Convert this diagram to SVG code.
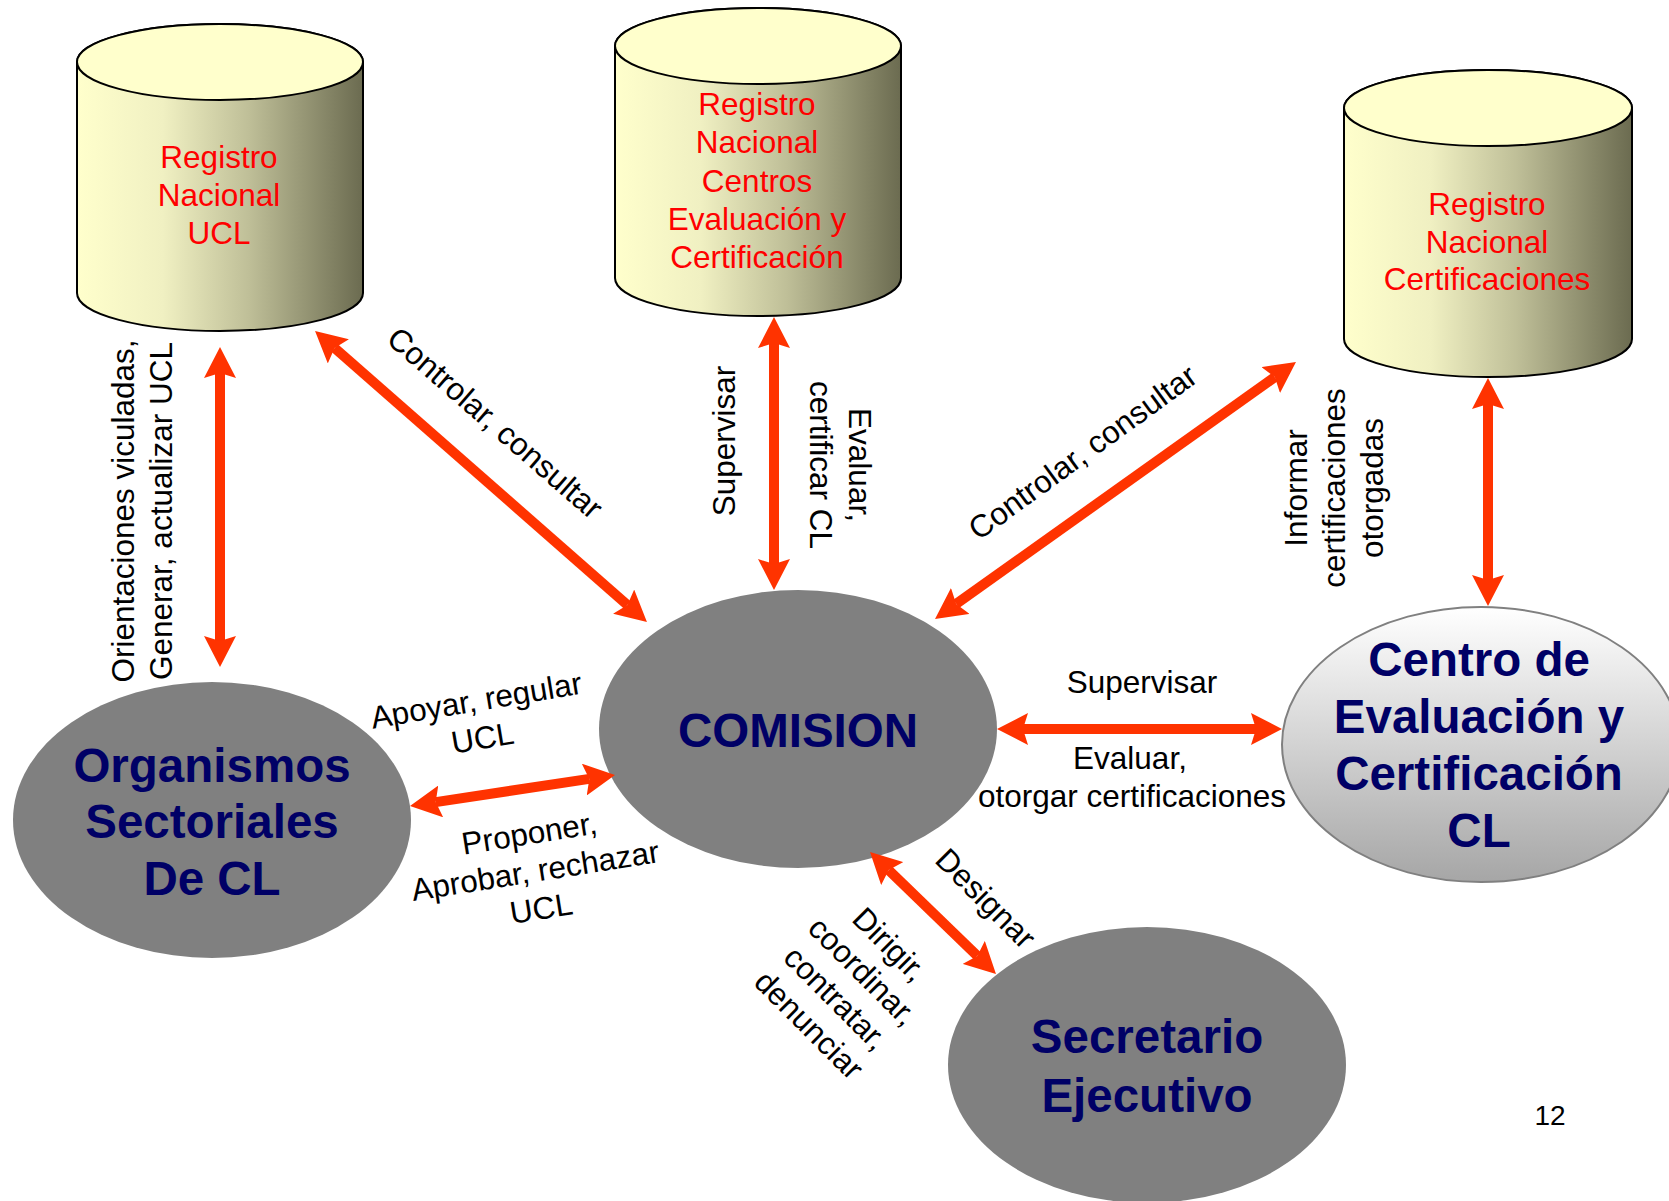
<svg xmlns="http://www.w3.org/2000/svg" width="1669" height="1201" viewBox="0 0 1669 1201">
<defs>
<linearGradient id="cyl" x1="0" y1="0" x2="1" y2="0">
<stop offset="0" stop-color="#FFFFCC"/>
<stop offset="0.3" stop-color="#F0F0C2"/>
<stop offset="0.6" stop-color="#BFBF98"/>
<stop offset="1" stop-color="#6B6B50"/>
</linearGradient>
<linearGradient id="centro" x1="0" y1="0" x2="0" y2="1">
<stop offset="0" stop-color="#FFFFFF"/>
<stop offset="1" stop-color="#A6A6A6"/>
</linearGradient>
<marker id="ah" viewBox="0 0 31 32" refX="5" refY="16" markerWidth="31" markerHeight="32" markerUnits="userSpaceOnUse" orient="auto-start-reverse">
<path d="M0,0 L31,16 L0,32 L5,16 Z" fill="#FF3300"/>
</marker>
</defs>
<style>
.cylbody{fill:url(#cyl);stroke:#000;stroke-width:2}
.cyltop{fill:#FFFFCC;stroke:#000;stroke-width:2}
.red{font-family:"Liberation Sans",Arial,sans-serif;font-size:31.5px;fill:#FF0000;text-anchor:middle}
.node{fill:#808080}
.big{font-family:"Liberation Sans",Arial,sans-serif;font-size:47.5px;font-weight:bold;fill:#000066;text-anchor:middle}
.lbl{font-family:"Liberation Sans",Arial,sans-serif;font-size:31.5px;fill:#000;text-anchor:middle}
.conn{stroke:#FF3300;stroke-width:10;fill:none;marker-start:url(#ah);marker-end:url(#ah)}
</style>
<rect width="1669" height="1201" fill="#FFFFFF"/>

<g id="registro-ucl">
<path class="cylbody" d="M77,62 V293 A143,38 0 0 0 363,293 V62 A143,38 0 0 0 77,62 Z"/>
<ellipse class="cyltop" cx="220" cy="62" rx="143" ry="38"/>
<text class="red"><tspan x="219" y="168">Registro</tspan><tspan x="219" y="206">Nacional</tspan><tspan x="219" y="244">UCL</tspan></text>
</g>

<g id="registro-centros">
<path class="cylbody" d="M615,46 V278 A143,38 0 0 0 901,278 V46 A143,38 0 0 0 615,46 Z"/>
<ellipse class="cyltop" cx="758" cy="46" rx="143" ry="38"/>
<text class="red"><tspan x="757" y="115">Registro</tspan><tspan x="757" y="153">Nacional</tspan><tspan x="757" y="192">Centros</tspan><tspan x="757" y="230">Evaluación y</tspan><tspan x="757" y="268">Certificación</tspan></text>
</g>

<g id="registro-certificaciones">
<path class="cylbody" d="M1344,108 V339 A144,38 0 0 0 1632,339 V108 A144,38 0 0 0 1344,108 Z"/>
<ellipse class="cyltop" cx="1488" cy="108" rx="144" ry="38"/>
<text class="red"><tspan x="1487" y="215">Registro</tspan><tspan x="1487" y="253">Nacional</tspan><tspan x="1487" y="290">Certificaciones</tspan></text>
</g>

<g id="comision">
<ellipse class="node" cx="798" cy="729" rx="199" ry="139"/>
<text class="big" x="798" y="747">COMISION</text>
</g>

<g id="organismos">
<ellipse class="node" cx="212" cy="820" rx="199" ry="138"/>
<text class="big"><tspan x="212" y="782">Organismos</tspan><tspan x="212" y="838">Sectoriales</tspan><tspan x="212" y="895">De CL</tspan></text>
</g>

<g id="secretario">
<ellipse class="node" cx="1147" cy="1065" rx="199" ry="138"/>
<text class="big"><tspan x="1147" y="1053">Secretario</tspan><tspan x="1147" y="1112">Ejecutivo</tspan></text>
</g>

<g id="centro">
<ellipse cx="1481" cy="744.5" rx="199" ry="137.5" fill="url(#centro)" stroke="#808080" stroke-width="2"/>
<text class="big"><tspan x="1479" y="676">Centro de</tspan><tspan x="1479" y="733">Evaluación y</tspan><tspan x="1479" y="790">Certificación</tspan><tspan x="1479" y="847">CL</tspan></text>
</g>

<g id="connectors">
<line class="conn" x1="220" y1="373" x2="220" y2="641"/>
<line class="conn" x1="334.6" y1="348.1" x2="627.4" y2="604.9"/>
<line class="conn" x1="774" y1="343" x2="774" y2="564"/>
<line class="conn" x1="1274.8" y1="377.1" x2="956.2" y2="603.9"/>
<line class="conn" x1="1488" y1="404" x2="1488" y2="580"/>
<line class="conn" x1="1023" y1="729" x2="1256" y2="729"/>
<line class="conn" x1="435.7" y1="802.1" x2="589.3" y2="778.9"/>
<line class="conn" x1="888.7" y1="870.1" x2="977.3" y2="955.9"/>
</g>

<g id="labels">
<text class="lbl" transform="translate(134,511) rotate(-90)"><tspan x="0" y="0">Orientaciones viculadas,</tspan><tspan x="0" y="38">Generar, actualizar UCL</tspan></text>
<text class="lbl" transform="translate(488,431) rotate(41)">Controlar, consultar</text>
<text class="lbl" transform="translate(735,441) rotate(-90)">Supervisar</text>
<text class="lbl" transform="translate(849,465) rotate(90)"><tspan x="0" y="0">Evaluar,</tspan><tspan x="0" y="39">certificar CL</tspan></text>
<text class="lbl" transform="translate(1089,461) rotate(-36)">Controlar, consultar</text>
<text class="lbl" transform="translate(1307,488) rotate(-90)"><tspan x="0" y="0">Informar</tspan><tspan x="0" y="38">certificaciones</tspan><tspan x="0" y="76">otorgadas</tspan></text>
<text class="lbl" x="1142" y="693">Supervisar</text>
<text class="lbl"><tspan x="1130" y="769">Evaluar,</tspan><tspan x="1132" y="807">otorgar certificaciones</tspan></text>
<text class="lbl" transform="translate(478,711) rotate(-9.5)"><tspan x="0" y="0">Apoyar, regular</tspan><tspan x="0" y="38">UCL</tspan></text>
<text class="lbl" transform="translate(531,844) rotate(-9)"><tspan x="0" y="0">Proponer,</tspan><tspan x="0" y="38">Aprobar, rechazar</tspan><tspan x="0" y="76">UCL</tspan></text>
<text class="lbl" transform="translate(978,906) rotate(45)">Designar</text>
<text class="lbl" transform="translate(882,952) rotate(45)"><tspan x="0" y="0">Dirigir,</tspan><tspan x="0" y="38">coordinar,</tspan><tspan x="0" y="76">contratar,</tspan><tspan x="0" y="114">denunciar</tspan></text>
<text x="1550" y="1125" font-family="Liberation Sans, Arial, sans-serif" font-size="28" fill="#000" text-anchor="middle">12</text>
</g>
</svg>
